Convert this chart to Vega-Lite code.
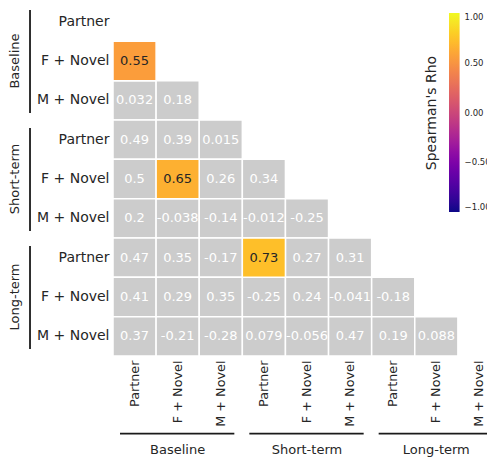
{
  "$schema": "https://vega.github.io/schema/vega-lite/v6.json",
  "width": 374,
  "height": 354,
  "autosize": {"type": "none"},
  "padding": {"left": 113, "top": 2, "right": 0, "bottom": 104},
  "background": "white",
  "config": {
    "view": {"stroke": null},
    "font": "DejaVu Sans"
  },
  "datasets": {
    "cells": [
      {"row": "Baseline|F + Novel", "col": "Baseline|Partner", "rho": 0.55, "sig": true},
      {"row": "Baseline|M + Novel", "col": "Baseline|Partner", "rho": 0.032, "sig": false},
      {"row": "Baseline|M + Novel", "col": "Baseline|F + Novel", "rho": 0.18, "sig": false},
      {"row": "Short-term|Partner", "col": "Baseline|Partner", "rho": 0.49, "sig": false},
      {"row": "Short-term|Partner", "col": "Baseline|F + Novel", "rho": 0.39, "sig": false},
      {"row": "Short-term|Partner", "col": "Baseline|M + Novel", "rho": 0.015, "sig": false},
      {"row": "Short-term|F + Novel", "col": "Baseline|Partner", "rho": 0.5, "sig": false},
      {"row": "Short-term|F + Novel", "col": "Baseline|F + Novel", "rho": 0.65, "sig": true},
      {"row": "Short-term|F + Novel", "col": "Baseline|M + Novel", "rho": 0.26, "sig": false},
      {"row": "Short-term|F + Novel", "col": "Short-term|Partner", "rho": 0.34, "sig": false},
      {"row": "Short-term|M + Novel", "col": "Baseline|Partner", "rho": 0.2, "sig": false},
      {"row": "Short-term|M + Novel", "col": "Baseline|F + Novel", "rho": -0.038, "sig": false},
      {"row": "Short-term|M + Novel", "col": "Baseline|M + Novel", "rho": -0.14, "sig": false},
      {"row": "Short-term|M + Novel", "col": "Short-term|Partner", "rho": -0.012, "sig": false},
      {"row": "Short-term|M + Novel", "col": "Short-term|F + Novel", "rho": -0.25, "sig": false},
      {"row": "Long-term|Partner", "col": "Baseline|Partner", "rho": 0.47, "sig": false},
      {"row": "Long-term|Partner", "col": "Baseline|F + Novel", "rho": 0.35, "sig": false},
      {"row": "Long-term|Partner", "col": "Baseline|M + Novel", "rho": -0.17, "sig": false},
      {"row": "Long-term|Partner", "col": "Short-term|Partner", "rho": 0.73, "sig": true},
      {"row": "Long-term|Partner", "col": "Short-term|F + Novel", "rho": 0.27, "sig": false},
      {"row": "Long-term|Partner", "col": "Short-term|M + Novel", "rho": 0.31, "sig": false},
      {"row": "Long-term|F + Novel", "col": "Baseline|Partner", "rho": 0.41, "sig": false},
      {"row": "Long-term|F + Novel", "col": "Baseline|F + Novel", "rho": 0.29, "sig": false},
      {"row": "Long-term|F + Novel", "col": "Baseline|M + Novel", "rho": 0.35, "sig": false},
      {"row": "Long-term|F + Novel", "col": "Short-term|Partner", "rho": -0.25, "sig": false},
      {"row": "Long-term|F + Novel", "col": "Short-term|F + Novel", "rho": 0.24, "sig": false},
      {"row": "Long-term|F + Novel", "col": "Short-term|M + Novel", "rho": -0.041, "sig": false},
      {"row": "Long-term|F + Novel", "col": "Long-term|Partner", "rho": -0.18, "sig": false},
      {"row": "Long-term|M + Novel", "col": "Baseline|Partner", "rho": 0.37, "sig": false},
      {"row": "Long-term|M + Novel", "col": "Baseline|F + Novel", "rho": -0.21, "sig": false},
      {"row": "Long-term|M + Novel", "col": "Baseline|M + Novel", "rho": -0.28, "sig": false},
      {"row": "Long-term|M + Novel", "col": "Short-term|Partner", "rho": 0.079, "sig": false},
      {"row": "Long-term|M + Novel", "col": "Short-term|F + Novel", "rho": -0.056, "sig": false},
      {"row": "Long-term|M + Novel", "col": "Short-term|M + Novel", "rho": 0.47, "sig": false},
      {"row": "Long-term|M + Novel", "col": "Long-term|Partner", "rho": 0.19, "sig": false},
      {"row": "Long-term|M + Novel", "col": "Long-term|F + Novel", "rho": 0.088, "sig": false}
    ],
    "groups": [
      {"group": "Baseline", "first": 0, "last": 3},
      {"group": "Short-term", "first": 3, "last": 6},
      {"group": "Long-term", "first": 6, "last": 9}
    ]
  },
  "layer": [
    {
      "data": {"name": "cells"},
      "encoding": {
        "x": {
          "field": "col", "type": "nominal",
          "scale": {
            "domain": ["Baseline|Partner","Baseline|F + Novel","Baseline|M + Novel","Short-term|Partner","Short-term|F + Novel","Short-term|M + Novel","Long-term|Partner","Long-term|F + Novel","Long-term|M + Novel"],
            "range": [0, 388], "padding": 0
          },
          "axis": {
            "title": null, "labelExpr": "split(datum.label, '|')[1]",
            "labelAngle": -90, "labelFontSize": 12.8, "labelColor": "#262626",
            "ticks": false, "tickSize": 0, "domain": false, "labelPadding": 4, "labelLimit": 200
          }
        },
        "y": {
          "field": "row", "type": "nominal",
          "scale": {
            "domain": ["Baseline|Partner","Baseline|F + Novel","Baseline|M + Novel","Short-term|Partner","Short-term|F + Novel","Short-term|M + Novel","Long-term|Partner","Long-term|F + Novel","Long-term|M + Novel"],
            "padding": 0
          },
          "axis": {
            "title": null, "labelExpr": "split(datum.label, '|')[1]",
            "labelFontSize": 14, "labelColor": "#262626",
            "ticks": false, "tickSize": 0, "domain": false, "labelPadding": 4, "labelLimit": 200
          }
        }
      },
      "layer": [
        {
          "transform": [{"filter": "!datum.sig"}],
          "mark": {"type": "rect", "fill": "#cccccc", "stroke": "white", "strokeWidth": 1.5}
        },
        {
          "transform": [{"filter": "datum.sig"}],
          "mark": {"type": "rect", "stroke": "white", "strokeWidth": 1.5, "opacity": 1},
          "encoding": {
            "color": {
              "field": "rho", "type": "quantitative",
              "scale": {"scheme": "plasma", "domain": [-1, 1]},
              "legend": {
                "orient": "none", "legendX": 312, "legendY": 11,
                "direction": "vertical", "gradientLength": 199, "gradientThickness": 10.6,
                "gradientStrokeWidth": 0,
                "title": "Spearman's Rho", "titleOrient": "left", "titleAnchor": "middle",
                "titleFontSize": 14, "titleFontWeight": "normal", "titleColor": "#262626",
                "titlePadding": 9, "labelFontSize": 8.5, "labelColor": "#262626",
                "labelOffset": 5, "values": [-1, -0.5, 0, 0.5, 1], "format": ".2f",
                "padding": 0
              }
            }
          }
        },
        {
          "mark": {"type": "text", "fontSize": 13},
          "encoding": {
            "text": {"field": "rho", "type": "nominal"},
            "color": {"condition": {"test": "datum.sig", "value": "#262626"}, "value": "white"}
          }
        }
      ]
    },
    {
      "data": {"name": "groups"},
      "layer": [
        {
          "mark": {"type": "rule", "color": "#1a1a1a", "strokeWidth": 1.8, "yOffset": 8, "y2Offset": -7},
          "encoding": {
            "x": {"datum": -1.925, "type": "quantitative", "scale": {"domain": [0, 9], "range": [0, 388], "nice": false, "zero": false}, "axis": null},
            "y": {"field": "first", "type": "quantitative", "scale": {"domain": [0, 9], "range": [0, 354], "nice": false, "zero": false}, "axis": null},
            "y2": {"field": "last"}
          }
        },
        {
          "mark": {"type": "text", "angle": 270, "fontSize": 13, "color": "#262626", "yOffset": 59, "align": "center", "baseline": "middle"},
          "encoding": {
            "x": {"datum": -2.27, "type": "quantitative"},
            "y": {"field": "first", "type": "quantitative"},
            "text": {"field": "group", "type": "nominal"}
          }
        },
        {
          "mark": {"type": "rule", "color": "#1a1a1a", "strokeWidth": 1.8, "xOffset": 7, "x2Offset": -8},
          "encoding": {
            "x": {"field": "first", "type": "quantitative"},
            "x2": {"field": "last"},
            "y": {"datum": 10.975, "type": "quantitative"}
          }
        },
        {
          "mark": {"type": "text", "fontSize": 13, "color": "#262626", "xOffset": 64.6, "align": "center", "baseline": "middle"},
          "encoding": {
            "x": {"field": "first", "type": "quantitative"},
            "y": {"datum": 11.4, "type": "quantitative"},
            "text": {"field": "group", "type": "nominal"}
          }
        }
      ]
    }
  ],
  "resolve": {"scale": {"x": "independent", "y": "independent"}}
}
